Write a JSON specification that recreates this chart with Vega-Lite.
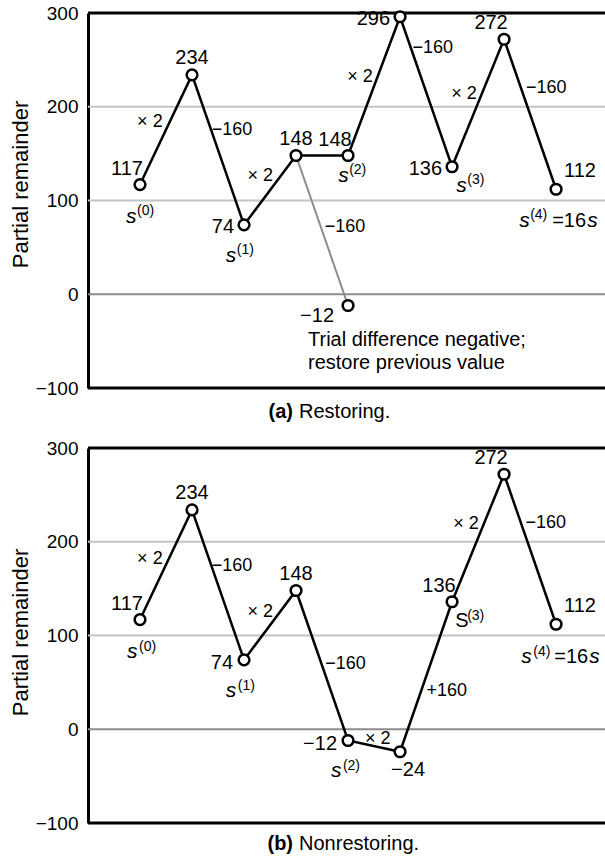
{
  "$schema": "https://vega.github.io/schema/vega-lite/v6.json",
  "padding": {"left": 9, "top": 4, "right": 0, "bottom": 0},
  "spacing": 60,
  "bounds": "flush",
  "background": "white",
  "config": {
    "view": {"stroke": null},
    "font": "Liberation Sans",
    "axisY": {"grid": false, "ticks": false, "tickSize": 0, "labelPadding": 10, "labelFontSize": 19, "labelColor": "#000", "labelFont": "Liberation Sans", "titleFont": "Liberation Sans", "titleFontSize": 22, "titleFontWeight": "normal", "titleColor": "#000", "titlePadding": 3, "domainColor": "#000", "domainWidth": 3},
    "text": {"font": "Liberation Sans", "fontSize": 20, "color": "#000", "baseline": "middle"}
  },
  "datasets": {
    "grid": [{"r": 100}, {"r": 200}],
    "zero": [{"r": 0}],
    "frame": [{"r": 300}, {"r": -100}],
    "a_main": [
      {"step": 0, "r": 117, "place": "aboveleft"},
      {"step": 1, "r": 234, "place": "above"},
      {"step": 2, "r": 74, "place": "left"},
      {"step": 3, "r": 148, "place": "above"},
      {"step": 4, "r": 148, "place": "aboveleft"},
      {"step": 5, "r": 296, "place": "left"},
      {"step": 6, "r": 136, "place": "left"},
      {"step": 7, "r": 272, "place": "aboveleft"},
      {"step": 8, "r": 112, "place": "aboveright"}
    ],
    "a_trial": [
      {"step": 3, "r": 148, "end": "from"},
      {"step": 4, "r": -12, "end": "to"}
    ],
    "a_ops": [
      {"step": 0.19, "r": 183.7, "op": "× 2"},
      {"step": 1.77, "r": 175.2, "op": "−160"},
      {"step": 2.31, "r": 126.1, "op": "× 2"},
      {"step": 3.94, "r": 71.7, "op": "−160"},
      {"step": 4.23, "r": 231.7, "op": "× 2"},
      {"step": 5.63, "r": 262.7, "op": "−160"},
      {"step": 6.23, "r": 213.6, "op": "× 2"},
      {"step": 7.81, "r": 220, "op": "−160"}
    ],
    "a_s": [
      {"step": -0.27, "r": 76, "letter": "s", "sup": "(0)"},
      {"step": 1.65, "r": 34.4, "letter": "s", "sup": "(1)"},
      {"step": 3.81, "r": 119.7, "letter": "s", "sup": "(2)"},
      {"step": 6.08, "r": 109.1, "letter": "s", "sup": "(3)"},
      {"step": 7.29, "r": 71.7, "letter": "s", "sup": "(4)", "tail": "=16", "tailvar": "s"}
    ],
    "a_note": [
      {"step": 3.23, "r": -48.8, "note": "Trial difference negative;"},
      {"step": 3.23, "r": -73.3, "note": "restore previous value"}
    ],
    "a_cap": [{"tag": "(a)", "name": "Restoring."}],
    "b_main": [
      {"step": 0, "r": 117, "place": "aboveleft"},
      {"step": 1, "r": 234, "place": "above"},
      {"step": 2, "r": 74, "place": "left"},
      {"step": 3, "r": 148, "place": "above"},
      {"step": 4, "r": -12, "place": "left"},
      {"step": 5, "r": -24, "place": "below"},
      {"step": 6, "r": 136, "place": "aboveleft"},
      {"step": 7, "r": 272, "place": "aboveleft"},
      {"step": 8, "r": 112, "place": "aboveright"}
    ],
    "b_ops": [
      {"step": 0.19, "r": 181.6, "op": "× 2"},
      {"step": 1.77, "r": 174.1, "op": "−160"},
      {"step": 2.31, "r": 125.1, "op": "× 2"},
      {"step": 3.95, "r": 70.1, "op": "−160"},
      {"step": 4.57, "r": -10.4, "op": "× 2"},
      {"step": 5.9, "r": 40.8, "op": "+160"},
      {"step": 6.27, "r": 218.9, "op": "× 2"},
      {"step": 7.8, "r": 219.5, "op": "−160"}
    ],
    "b_s": [
      {"step": -0.25, "r": 76, "letter": "s", "sup": "(0)"},
      {"step": 1.65, "r": 34.4, "letter": "s", "sup": "(1)"},
      {"step": 3.67, "r": -50.9, "letter": "s", "sup": "(2)"},
      {"step": 6.06, "r": 109.1, "letter": "S", "sup": "(3)"},
      {"step": 7.33, "r": 70.7, "letter": "s", "sup": "(4)", "tail": "=16", "tailvar": "s"}
    ],
    "b_cap": [{"tag": "(b)", "name": "Nonrestoring."}]
  },
  "vconcat": [
    {
      "width": 518,
      "height": 375,
      "layer": [
        {
          "data": {"name": "grid"},
          "mark": {"type": "rule", "color": "#c4c4c4", "strokeWidth": 2},
          "encoding": {"y": {"field": "r", "type": "quantitative", "scale": {"domain": [-100, 300], "nice": false, "zero": false}, "title": "Partial remainder", "axis": {"values": [-100, 0, 100, 200, 300], "titleY": 171}}}
        },
        {
          "data": {"name": "zero"},
          "mark": {"type": "rule", "color": "#8c8c8c", "strokeWidth": 2},
          "encoding": {"y": {"field": "r", "type": "quantitative", "scale": {"domain": [-100, 300], "nice": false, "zero": false}, "title": "Partial remainder"}}
        },
        {
          "data": {"name": "frame"},
          "mark": {"type": "rule", "color": "#000", "strokeWidth": 3},
          "encoding": {"y": {"field": "r", "type": "quantitative", "scale": {"domain": [-100, 300], "nice": false, "zero": false}, "title": "Partial remainder"}}
        },
        {
          "data": {"name": "a_trial"},
          "mark": {"type": "line", "color": "#8c8c8c", "strokeWidth": 2},
          "encoding": {
            "x": {"field": "step", "type": "quantitative", "scale": {"domain": [-1, 8.96], "nice": false, "zero": false}, "axis": null},
            "y": {"field": "r", "type": "quantitative", "scale": {"domain": [-100, 300], "nice": false, "zero": false}, "title": "Partial remainder"}
          }
        },
        {
          "data": {"name": "a_main"},
          "mark": {"type": "line", "color": "#000", "strokeWidth": 2.5},
          "encoding": {
            "x": {"field": "step", "type": "quantitative", "scale": {"domain": [-1, 8.96], "nice": false, "zero": false}, "axis": null},
            "y": {"field": "r", "type": "quantitative", "scale": {"domain": [-100, 300], "nice": false, "zero": false}, "title": "Partial remainder"}
          }
        },
        {
          "data": {"name": "a_trial"},
          "transform": [{"filter": "datum.end == 'to'"}],
          "mark": {"type": "point", "shape": "circle", "filled": true, "fill": "#fff", "stroke": "#000", "strokeWidth": 2.5, "size": 115, "opacity": 1},
          "encoding": {
            "x": {"field": "step", "type": "quantitative", "scale": {"domain": [-1, 8.96], "nice": false, "zero": false}, "axis": null},
            "y": {"field": "r", "type": "quantitative", "scale": {"domain": [-100, 300], "nice": false, "zero": false}, "title": "Partial remainder"}
          }
        },
        {
          "data": {"name": "a_main"},
          "mark": {"type": "point", "shape": "circle", "filled": true, "fill": "#fff", "stroke": "#000", "strokeWidth": 2.5, "size": 115, "opacity": 1},
          "encoding": {
            "x": {"field": "step", "type": "quantitative", "scale": {"domain": [-1, 8.96], "nice": false, "zero": false}, "axis": null},
            "y": {"field": "r", "type": "quantitative", "scale": {"domain": [-100, 300], "nice": false, "zero": false}, "title": "Partial remainder"}
          }
        },
        {
          "data": {"name": "a_main"},
          "transform": [{"filter": "datum.place == 'above'"}],
          "mark": {"type": "text", "align": "center", "dy": -17},
          "encoding": {
            "x": {"field": "step", "type": "quantitative", "scale": {"domain": [-1, 8.96], "nice": false, "zero": false}, "axis": null},
            "y": {"field": "r", "type": "quantitative", "scale": {"domain": [-100, 300], "nice": false, "zero": false}, "title": "Partial remainder"},
            "text": {"field": "r", "type": "quantitative", "format": "d"}
          }
        },
        {
          "data": {"name": "a_main"},
          "transform": [{"filter": "datum.place == 'aboveleft'"}],
          "mark": {"type": "text", "align": "center", "dx": -13, "dy": -16},
          "encoding": {
            "x": {"field": "step", "type": "quantitative", "scale": {"domain": [-1, 8.96], "nice": false, "zero": false}, "axis": null},
            "y": {"field": "r", "type": "quantitative", "scale": {"domain": [-100, 300], "nice": false, "zero": false}, "title": "Partial remainder"},
            "text": {"field": "r", "type": "quantitative", "format": "d"}
          }
        },
        {
          "data": {"name": "a_main"},
          "transform": [{"filter": "datum.place == 'left'"}],
          "mark": {"type": "text", "align": "right", "dx": -10, "dy": 2},
          "encoding": {
            "x": {"field": "step", "type": "quantitative", "scale": {"domain": [-1, 8.96], "nice": false, "zero": false}, "axis": null},
            "y": {"field": "r", "type": "quantitative", "scale": {"domain": [-100, 300], "nice": false, "zero": false}, "title": "Partial remainder"},
            "text": {"field": "r", "type": "quantitative", "format": "d"}
          }
        },
        {
          "data": {"name": "a_main"},
          "transform": [{"filter": "datum.place == 'aboveright'"}],
          "mark": {"type": "text", "align": "left", "dx": 8, "dy": -18},
          "encoding": {
            "x": {"field": "step", "type": "quantitative", "scale": {"domain": [-1, 8.96], "nice": false, "zero": false}, "axis": null},
            "y": {"field": "r", "type": "quantitative", "scale": {"domain": [-100, 300], "nice": false, "zero": false}, "title": "Partial remainder"},
            "text": {"field": "r", "type": "quantitative", "format": "d"}
          }
        },
        {
          "data": {"name": "a_trial"},
          "transform": [{"filter": "datum.end == 'to'"}],
          "mark": {"type": "text", "align": "right", "dx": -14, "dy": 10},
          "encoding": {
            "x": {"field": "step", "type": "quantitative", "scale": {"domain": [-1, 8.96], "nice": false, "zero": false}, "axis": null},
            "y": {"field": "r", "type": "quantitative", "scale": {"domain": [-100, 300], "nice": false, "zero": false}, "title": "Partial remainder"},
            "text": {"field": "r", "type": "quantitative", "format": "d"}
          }
        },
        {
          "data": {"name": "a_ops"},
          "mark": {"type": "text", "align": "center", "fontSize": 18},
          "encoding": {
            "x": {"field": "step", "type": "quantitative", "scale": {"domain": [-1, 8.96], "nice": false, "zero": false}, "axis": null},
            "y": {"field": "r", "type": "quantitative", "scale": {"domain": [-100, 300], "nice": false, "zero": false}, "title": "Partial remainder"},
            "text": {"field": "op"}
          }
        },
        {
          "data": {"name": "a_s"},
          "mark": {"type": "text", "align": "left", "baseline": "alphabetic", "fontStyle": "italic", "fontSize": 21},
          "encoding": {
            "x": {"field": "step", "type": "quantitative", "scale": {"domain": [-1, 8.96], "nice": false, "zero": false}, "axis": null},
            "y": {"field": "r", "type": "quantitative", "scale": {"domain": [-100, 300], "nice": false, "zero": false}, "title": "Partial remainder"},
            "text": {"field": "letter"}
          }
        },
        {
          "data": {"name": "a_s"},
          "mark": {"type": "text", "align": "left", "baseline": "alphabetic", "fontSize": 14, "dx": 11, "dy": -8},
          "encoding": {
            "x": {"field": "step", "type": "quantitative", "scale": {"domain": [-1, 8.96], "nice": false, "zero": false}, "axis": null},
            "y": {"field": "r", "type": "quantitative", "scale": {"domain": [-100, 300], "nice": false, "zero": false}, "title": "Partial remainder"},
            "text": {"field": "sup"}
          }
        },
        {
          "data": {"name": "a_s"},
          "transform": [{"filter": "datum.tail"}],
          "mark": {"type": "text", "align": "left", "baseline": "alphabetic", "fontSize": 20, "dx": 33},
          "encoding": {
            "x": {"field": "step", "type": "quantitative", "scale": {"domain": [-1, 8.96], "nice": false, "zero": false}, "axis": null},
            "y": {"field": "r", "type": "quantitative", "scale": {"domain": [-100, 300], "nice": false, "zero": false}, "title": "Partial remainder"},
            "text": {"field": "tail"}
          }
        },
        {
          "data": {"name": "a_s"},
          "transform": [{"filter": "datum.tail"}],
          "mark": {"type": "text", "align": "left", "baseline": "alphabetic", "fontStyle": "italic", "fontSize": 21, "dx": 68},
          "encoding": {
            "x": {"field": "step", "type": "quantitative", "scale": {"domain": [-1, 8.96], "nice": false, "zero": false}, "axis": null},
            "y": {"field": "r", "type": "quantitative", "scale": {"domain": [-100, 300], "nice": false, "zero": false}, "title": "Partial remainder"},
            "text": {"field": "tailvar"}
          }
        },
        {
          "data": {"name": "a_note"},
          "mark": {"type": "text", "align": "left", "fontSize": 20},
          "encoding": {
            "x": {"field": "step", "type": "quantitative", "scale": {"domain": [-1, 8.96], "nice": false, "zero": false}, "axis": null},
            "y": {"field": "r", "type": "quantitative", "scale": {"domain": [-100, 300], "nice": false, "zero": false}, "title": "Partial remainder"},
            "text": {"field": "note"}
          }
        },
        {
          "data": {"name": "a_cap"},
          "mark": {"type": "text", "align": "right", "baseline": "alphabetic", "fontWeight": "bold", "fontSize": 20, "dx": -3, "dy": 30},
          "encoding": {
            "x": {"datum": 3, "type": "quantitative", "scale": {"domain": [-1, 8.96], "nice": false, "zero": false}, "axis": null},
            "y": {"datum": -100, "type": "quantitative", "scale": {"domain": [-100, 300], "nice": false, "zero": false}, "title": "Partial remainder"},
            "text": {"field": "tag"}
          }
        },
        {
          "data": {"name": "a_cap"},
          "mark": {"type": "text", "align": "left", "baseline": "alphabetic", "fontSize": 20, "dx": 3, "dy": 30},
          "encoding": {
            "x": {"datum": 3, "type": "quantitative", "scale": {"domain": [-1, 8.96], "nice": false, "zero": false}, "axis": null},
            "y": {"datum": -100, "type": "quantitative", "scale": {"domain": [-100, 300], "nice": false, "zero": false}, "title": "Partial remainder"},
            "text": {"field": "name"}
          }
        }
      ]
    },
    {
      "width": 518,
      "height": 375,
      "layer": [
        {
          "data": {"name": "grid"},
          "mark": {"type": "rule", "color": "#c4c4c4", "strokeWidth": 2},
          "encoding": {"y": {"field": "r", "type": "quantitative", "scale": {"domain": [-100, 300], "nice": false, "zero": false}, "title": "Partial remainder", "axis": {"values": [-100, 0, 100, 200, 300], "titleY": 184}}}
        },
        {
          "data": {"name": "zero"},
          "mark": {"type": "rule", "color": "#8c8c8c", "strokeWidth": 2},
          "encoding": {"y": {"field": "r", "type": "quantitative", "scale": {"domain": [-100, 300], "nice": false, "zero": false}, "title": "Partial remainder"}}
        },
        {
          "data": {"name": "frame"},
          "mark": {"type": "rule", "color": "#000", "strokeWidth": 3},
          "encoding": {"y": {"field": "r", "type": "quantitative", "scale": {"domain": [-100, 300], "nice": false, "zero": false}, "title": "Partial remainder"}}
        },
        {
          "data": {"name": "b_main"},
          "mark": {"type": "line", "color": "#000", "strokeWidth": 2.5},
          "encoding": {
            "x": {"field": "step", "type": "quantitative", "scale": {"domain": [-1, 8.96], "nice": false, "zero": false}, "axis": null},
            "y": {"field": "r", "type": "quantitative", "scale": {"domain": [-100, 300], "nice": false, "zero": false}, "title": "Partial remainder"}
          }
        },
        {
          "data": {"name": "b_main"},
          "mark": {"type": "point", "shape": "circle", "filled": true, "fill": "#fff", "stroke": "#000", "strokeWidth": 2.5, "size": 115, "opacity": 1},
          "encoding": {
            "x": {"field": "step", "type": "quantitative", "scale": {"domain": [-1, 8.96], "nice": false, "zero": false}, "axis": null},
            "y": {"field": "r", "type": "quantitative", "scale": {"domain": [-100, 300], "nice": false, "zero": false}, "title": "Partial remainder"}
          }
        },
        {
          "data": {"name": "b_main"},
          "transform": [{"filter": "datum.place == 'above'"}],
          "mark": {"type": "text", "align": "center", "dy": -17},
          "encoding": {
            "x": {"field": "step", "type": "quantitative", "scale": {"domain": [-1, 8.96], "nice": false, "zero": false}, "axis": null},
            "y": {"field": "r", "type": "quantitative", "scale": {"domain": [-100, 300], "nice": false, "zero": false}, "title": "Partial remainder"},
            "text": {"field": "r", "type": "quantitative", "format": "d"}
          }
        },
        {
          "data": {"name": "b_main"},
          "transform": [{"filter": "datum.place == 'aboveleft'"}],
          "mark": {"type": "text", "align": "center", "dx": -13, "dy": -16},
          "encoding": {
            "x": {"field": "step", "type": "quantitative", "scale": {"domain": [-1, 8.96], "nice": false, "zero": false}, "axis": null},
            "y": {"field": "r", "type": "quantitative", "scale": {"domain": [-100, 300], "nice": false, "zero": false}, "title": "Partial remainder"},
            "text": {"field": "r", "type": "quantitative", "format": "d"}
          }
        },
        {
          "data": {"name": "b_main"},
          "transform": [{"filter": "datum.place == 'left'"}],
          "mark": {"type": "text", "align": "right", "dx": -11, "dy": 3},
          "encoding": {
            "x": {"field": "step", "type": "quantitative", "scale": {"domain": [-1, 8.96], "nice": false, "zero": false}, "axis": null},
            "y": {"field": "r", "type": "quantitative", "scale": {"domain": [-100, 300], "nice": false, "zero": false}, "title": "Partial remainder"},
            "text": {"field": "r", "type": "quantitative", "format": "d"}
          }
        },
        {
          "data": {"name": "b_main"},
          "transform": [{"filter": "datum.place == 'aboveright'"}],
          "mark": {"type": "text", "align": "left", "dx": 8, "dy": -18},
          "encoding": {
            "x": {"field": "step", "type": "quantitative", "scale": {"domain": [-1, 8.96], "nice": false, "zero": false}, "axis": null},
            "y": {"field": "r", "type": "quantitative", "scale": {"domain": [-100, 300], "nice": false, "zero": false}, "title": "Partial remainder"},
            "text": {"field": "r", "type": "quantitative", "format": "d"}
          }
        },
        {
          "data": {"name": "b_main"},
          "transform": [{"filter": "datum.place == 'below'"}],
          "mark": {"type": "text", "align": "center", "dx": 8, "dy": 18},
          "encoding": {
            "x": {"field": "step", "type": "quantitative", "scale": {"domain": [-1, 8.96], "nice": false, "zero": false}, "axis": null},
            "y": {"field": "r", "type": "quantitative", "scale": {"domain": [-100, 300], "nice": false, "zero": false}, "title": "Partial remainder"},
            "text": {"field": "r", "type": "quantitative", "format": "d"}
          }
        },
        {
          "data": {"name": "b_ops"},
          "mark": {"type": "text", "align": "center", "fontSize": 18},
          "encoding": {
            "x": {"field": "step", "type": "quantitative", "scale": {"domain": [-1, 8.96], "nice": false, "zero": false}, "axis": null},
            "y": {"field": "r", "type": "quantitative", "scale": {"domain": [-100, 300], "nice": false, "zero": false}, "title": "Partial remainder"},
            "text": {"field": "op"}
          }
        },
        {
          "data": {"name": "b_s"},
          "transform": [{"filter": "datum.letter == 's'"}],
          "mark": {"type": "text", "align": "left", "baseline": "alphabetic", "fontStyle": "italic", "fontSize": 21},
          "encoding": {
            "x": {"field": "step", "type": "quantitative", "scale": {"domain": [-1, 8.96], "nice": false, "zero": false}, "axis": null},
            "y": {"field": "r", "type": "quantitative", "scale": {"domain": [-100, 300], "nice": false, "zero": false}, "title": "Partial remainder"},
            "text": {"field": "letter"}
          }
        },
        {
          "data": {"name": "b_s"},
          "transform": [{"filter": "datum.letter == 'S'"}],
          "mark": {"type": "text", "align": "left", "baseline": "alphabetic", "fontSize": 20},
          "encoding": {
            "x": {"field": "step", "type": "quantitative", "scale": {"domain": [-1, 8.96], "nice": false, "zero": false}, "axis": null},
            "y": {"field": "r", "type": "quantitative", "scale": {"domain": [-100, 300], "nice": false, "zero": false}, "title": "Partial remainder"},
            "text": {"field": "letter"}
          }
        },
        {
          "data": {"name": "b_s"},
          "mark": {"type": "text", "align": "left", "baseline": "alphabetic", "fontSize": 14, "dx": 12, "dy": -7},
          "encoding": {
            "x": {"field": "step", "type": "quantitative", "scale": {"domain": [-1, 8.96], "nice": false, "zero": false}, "axis": null},
            "y": {"field": "r", "type": "quantitative", "scale": {"domain": [-100, 300], "nice": false, "zero": false}, "title": "Partial remainder"},
            "text": {"field": "sup"}
          }
        },
        {
          "data": {"name": "b_s"},
          "transform": [{"filter": "datum.tail"}],
          "mark": {"type": "text", "align": "left", "baseline": "alphabetic", "fontSize": 20, "dx": 33},
          "encoding": {
            "x": {"field": "step", "type": "quantitative", "scale": {"domain": [-1, 8.96], "nice": false, "zero": false}, "axis": null},
            "y": {"field": "r", "type": "quantitative", "scale": {"domain": [-100, 300], "nice": false, "zero": false}, "title": "Partial remainder"},
            "text": {"field": "tail"}
          }
        },
        {
          "data": {"name": "b_s"},
          "transform": [{"filter": "datum.tail"}],
          "mark": {"type": "text", "align": "left", "baseline": "alphabetic", "fontStyle": "italic", "fontSize": 21, "dx": 68},
          "encoding": {
            "x": {"field": "step", "type": "quantitative", "scale": {"domain": [-1, 8.96], "nice": false, "zero": false}, "axis": null},
            "y": {"field": "r", "type": "quantitative", "scale": {"domain": [-100, 300], "nice": false, "zero": false}, "title": "Partial remainder"},
            "text": {"field": "tailvar"}
          }
        },
        {
          "data": {"name": "b_cap"},
          "mark": {"type": "text", "align": "right", "baseline": "alphabetic", "fontWeight": "bold", "fontSize": 20, "dx": -3, "dy": 27},
          "encoding": {
            "x": {"datum": 3, "type": "quantitative", "scale": {"domain": [-1, 8.96], "nice": false, "zero": false}, "axis": null},
            "y": {"datum": -100, "type": "quantitative", "scale": {"domain": [-100, 300], "nice": false, "zero": false}, "title": "Partial remainder"},
            "text": {"field": "tag"}
          }
        },
        {
          "data": {"name": "b_cap"},
          "mark": {"type": "text", "align": "left", "baseline": "alphabetic", "fontSize": 20, "dx": 3, "dy": 27},
          "encoding": {
            "x": {"datum": 3, "type": "quantitative", "scale": {"domain": [-1, 8.96], "nice": false, "zero": false}, "axis": null},
            "y": {"datum": -100, "type": "quantitative", "scale": {"domain": [-100, 300], "nice": false, "zero": false}, "title": "Partial remainder"},
            "text": {"field": "name"}
          }
        }
      ]
    }
  ]
}
